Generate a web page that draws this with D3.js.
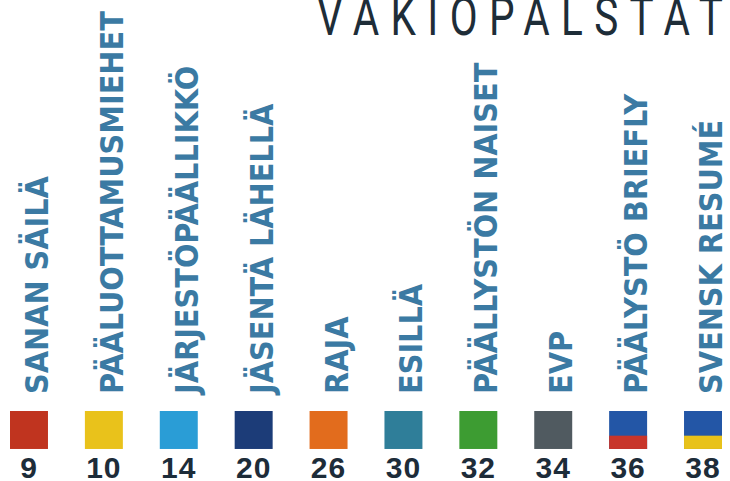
<!DOCTYPE html>
<html>
<head>
<meta charset="utf-8">
<script src="https://cdn.jsdelivr.net/npm/d3@7"></script>
<style>
  html, body { margin: 0; padding: 0; background: #fff; }
  svg { display: block; }
</style>
</head>
<body>
<svg id="chart" width="730" height="481"></svg>
<script>
// -------------------- DATA -------------------- //
const title = "VAKIOPALSTAT";
const sections = [
    "SANAN SÄILÄ",
    "PÄÄLUOTTAMUSMIEHET",
    "JÄRJESTÖPÄÄLLIKKÖ",
    "JÄSENTÄ LÄHELLÄ",
    "RAJA",
    "ESILLÄ",
    "PÄÄLLYSTÖN NAISET",
    "EVP",
    "PÄÄLYSTÖ BRIEFLY",
    "SVENSK RESUMÉ"
];
const pages = [9, 10, 14, 20, 26, 30, 32, 34, 36, 38];

// swatch palette: top colour, and bottom stripe (null = plain)
const swatchTop    = ["#c0341f", "#e9c21b", "#2a9dd6", "#1c3c78", "#e26c1d", "#2f7e99", "#3d9c32", "#505a60", "#2356a6", "#2356a6"];
const swatchBottom = [null, null, null, null, null, null, null, null, "#c8352a", "#e8c21a"];

// -------------------- LAYOUT -------------------- //
const svg = d3.select("#chart");

const x = d3.scaleBand()
    .domain(pages.map(String))
    .range([10, 722])
    .paddingInner(0.493)
    .paddingOuter(0);

const swatchY = 411;
const swatchSize = x.bandwidth();
const labelBase = 394;
const numberBase = 478;
const labelColor = "#3b7aa3";
const numberColor = "#1d2c39";

// title: light face squeezed horizontally, runs off the top edge like the print
const titleSquash = 0.75;
svg.append("text")
    .attr("transform", `translate(317,35) scale(${titleSquash},1)`)
    .attr("textLength", 406 / titleSquash)
    .attr("lengthAdjust", "spacing")
    .style("font-family", "Roboto, 'Liberation Sans', sans-serif")
    .style("font-weight", 400)
    .style("font-size", "54px")
    .style("fill", "#1e2d38")
    .text(title);

const cols = svg.selectAll("g.col")
    .data(pages.map((p, i) => ({page: p, label: sections[i], top: swatchTop[i], bottom: swatchBottom[i]})))
    .join("g")
    .attr("class", "col");

// vertical labels, baseline on the right edge of the swatch
cols.append("text")
    .attr("transform", d => `translate(${x(String(d.page)) + swatchSize},${labelBase}) rotate(-90)`)
    .style("font-family", "'DejaVu Sans Condensed', 'DejaVu Sans', sans-serif")
    .style("font-stretch", "condensed")
    .style("font-weight", "bold")
    .style("font-size", "32px")
    .style("fill", labelColor)
    .text(d => d.label);

// swatches
cols.append("rect")
    .attr("x", d => x(String(d.page)))
    .attr("y", swatchY)
    .attr("width", swatchSize)
    .attr("height", swatchSize)
    .attr("fill", d => d.top);

cols.filter(d => d.bottom)
    .append("rect")
    .attr("x", d => x(String(d.page)))
    .attr("y", swatchY + swatchSize * 0.65)
    .attr("width", swatchSize)
    .attr("height", swatchSize * 0.35)
    .attr("fill", d => d.bottom);

// page numbers
cols.append("text")
    .attr("x", d => x(String(d.page)) + swatchSize / 2)
    .attr("y", numberBase)
    .attr("text-anchor", "middle")
    .style("font-family", "'Liberation Sans', Arial, sans-serif")
    .style("font-weight", "bold")
    .style("font-size", "30px")
    .style("letter-spacing", "1px")
    .style("fill", numberColor)
    .text(d => d.page);
</script>
</body>
</html>
